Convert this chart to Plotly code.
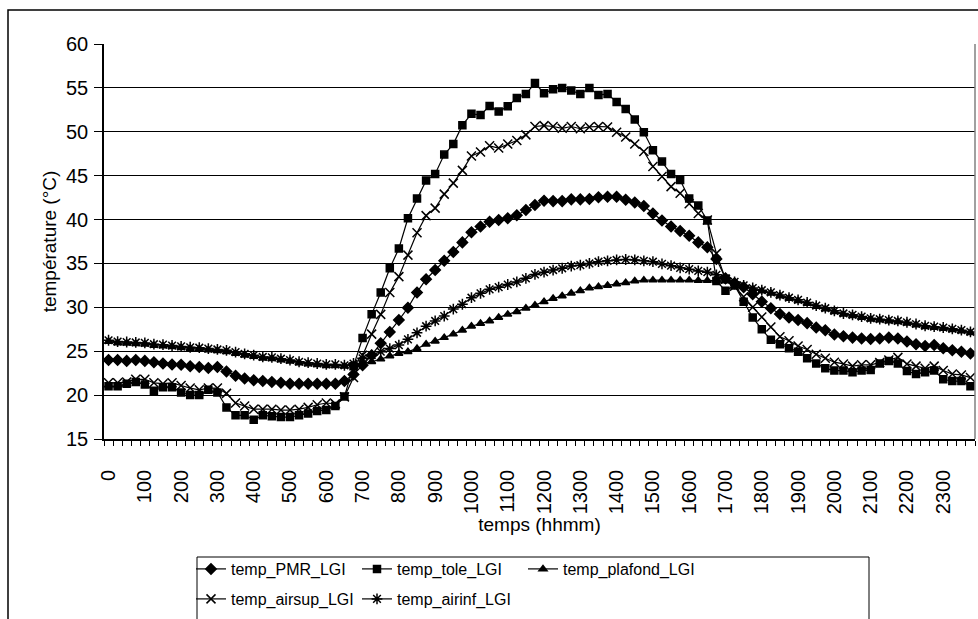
import plotly.graph_objects as go

# Time of day (hhmm), one reading every 15 minutes
TIMES = [
    0, 15, 30, 45, 100, 115, 130, 145, 200, 215, 230, 245,
    300, 315, 330, 345, 400, 415, 430, 445, 500, 515, 530, 545,
    600, 615, 630, 645, 700, 715, 730, 745, 800, 815, 830, 845,
    900, 915, 930, 945, 1000, 1015, 1030, 1045, 1100, 1115, 1130, 1145,
    1200, 1215, 1230, 1245, 1300, 1315, 1330, 1345, 1400, 1415, 1430, 1445,
    1500, 1515, 1530, 1545, 1600, 1615, 1630, 1645, 1700, 1715, 1730, 1745,
    1800, 1815, 1830, 1845, 1900, 1915, 1930, 1945, 2000, 2015, 2030, 2045,
    2100, 2115, 2130, 2145, 2200, 2215, 2230, 2245, 2300, 2315, 2330, 2345,
]

TEMP_PMR = [
    24.0, 24.0, 23.9, 24.0, 23.9, 23.75, 23.6, 23.5, 23.45, 23.3, 23.2, 23.1,
    23.2, 22.7, 22.2, 21.9, 21.7, 21.6, 21.5, 21.4, 21.3, 21.3, 21.3, 21.3,
    21.3, 21.3, 21.6, 22.35, 23.4, 24.55, 25.9, 27.2, 28.55, 29.95, 31.7, 33.2,
    34.25, 35.3, 36.3, 37.4, 38.55, 39.2, 39.75, 39.95, 40.15, 40.5, 41.1, 41.65,
    42.15, 42.1, 42.1, 42.3, 42.3, 42.35, 42.55, 42.6, 42.6, 42.25, 41.95, 41.55,
    40.7, 39.9, 39.2, 38.7, 38.15, 37.4, 36.85, 35.5, 33.3, 32.75, 32.3, 31.5,
    30.65, 29.9, 29.25, 28.85, 28.55, 28.2, 27.7, 27.4, 26.9, 26.7, 26.55, 26.45,
    26.4, 26.45, 26.55, 26.45, 26.1, 25.8, 25.6, 25.7, 25.35, 25.1, 24.95, 24.75,
]

TEMP_TOLE = [
    21.0, 21.0, 21.3, 21.5, 21.2, 20.5, 20.9, 20.9, 20.3, 20.0, 20.0, 20.6,
    20.3, 18.6, 17.7, 17.7, 17.2, 17.7, 17.6, 17.5, 17.5, 17.7, 17.9, 18.2,
    18.3, 18.75, 19.85, 23.3, 26.5, 29.2, 31.7, 34.45, 36.7, 40.15, 42.4, 44.45,
    45.2, 47.4, 48.6, 50.75, 52.05, 51.9, 52.95, 52.3, 52.9, 53.85, 54.3, 55.55,
    54.4, 54.85, 55.0, 54.7, 54.3, 55.0, 54.2, 54.3, 53.4, 52.6, 51.4, 49.95,
    47.9, 46.6, 45.2, 44.5, 42.4, 41.6, 39.9, 33.0, 31.9, 32.5, 30.65, 28.85,
    27.5, 26.3, 25.8, 25.35, 24.95, 24.2, 23.6, 23.05, 22.8, 22.8, 22.6, 22.8,
    22.85, 23.6, 23.9, 23.6, 22.75, 22.4, 22.6, 22.8, 21.8, 21.6, 21.6, 21.0,
]

TEMP_PLAFOND = [
    26.1, 25.95, 25.9, 25.85, 25.8, 25.65, 25.6, 25.5, 25.4, 25.3, 25.25, 25.15,
    25.05, 24.95, 24.75, 24.55, 24.4, 24.2, 24.15, 24.0, 23.85, 23.65, 23.55, 23.45,
    23.35, 23.35, 23.3, 23.45, 23.6, 23.8, 24.1, 24.45, 24.75, 24.95, 25.3, 25.8,
    26.15, 26.55, 26.95, 27.4, 27.85, 28.15, 28.45, 28.85, 29.2, 29.5, 29.9, 30.25,
    30.65, 31.0, 31.3, 31.6, 31.9, 32.2, 32.35, 32.5, 32.65, 32.8, 33.0, 33.1,
    33.1, 33.1, 33.1, 33.1, 33.1, 33.05, 33.05, 33.05, 33.0, 32.75, 32.4, 32.1,
    31.85, 31.6, 31.3, 31.0, 30.75, 30.45, 30.1, 29.8, 29.5, 29.2, 29.05, 28.85,
    28.65, 28.55, 28.45, 28.35, 28.2, 28.0, 27.8, 27.7, 27.6, 27.45, 27.3, 27.1,
]

TEMP_AIRSUP = [
    21.4, 21.4, 21.5, 21.8, 21.8, 21.4, 21.3, 21.4, 21.1, 20.8, 20.6, 20.8,
    20.8, 20.2, 19.1, 18.75, 18.4, 18.4, 18.4, 18.3, 18.3, 18.4, 18.6, 18.9,
    19.1, 19.0, 19.8, 22.0, 24.55, 26.95, 29.2, 31.7, 33.5, 35.95, 38.5, 40.45,
    41.3, 42.9, 44.15, 45.6, 47.25, 47.7, 48.4, 48.15, 48.6, 49.0, 49.65, 50.6,
    50.7, 50.6, 50.4, 50.6, 50.35, 50.55, 50.6, 50.55, 49.95, 49.4, 48.6, 47.75,
    46.05, 44.9, 43.75, 43.0, 41.8, 40.7, 39.95, 36.15, 33.2, 32.4, 31.2, 30.0,
    28.9, 27.75, 26.65, 26.2, 25.6, 25.2, 24.65, 24.2, 23.75, 23.55, 23.3, 23.45,
    23.45, 23.7, 24.0, 24.3, 23.55, 23.3, 23.05, 23.3, 22.8, 22.4, 22.3, 22.0,
]

TEMP_AIRINF = [
    26.25, 26.1, 26.05, 26.0, 25.95, 25.8, 25.75, 25.65, 25.55, 25.45, 25.4, 25.3,
    25.2, 25.1, 24.9, 24.7, 24.55, 24.35, 24.3, 24.15, 24.0, 23.8, 23.7, 23.6,
    23.5, 23.5, 23.4, 23.6, 24.2, 24.55, 24.95, 25.3, 25.7, 26.35, 27.1, 27.85,
    28.45, 29.0, 29.8, 30.35, 31.1, 31.6, 32.05, 32.3, 32.6, 32.9, 33.3, 33.75,
    34.0, 34.25, 34.45, 34.7, 34.8, 35.0, 35.2, 35.3, 35.4, 35.45, 35.4, 35.3,
    35.2, 34.95, 34.75, 34.5, 34.35, 34.15, 34.0, 33.7, 33.3, 32.9, 32.5, 32.2,
    31.95, 31.7, 31.4, 31.1, 30.85, 30.55, 30.2, 29.9, 29.6, 29.3, 29.15, 28.95,
    28.75, 28.65, 28.55, 28.45, 28.3, 28.1, 27.9, 27.8, 27.7, 27.55, 27.4, 27.2,
]

# name, values, marker symbol, marker size, legend block
SERIES = [
    ("temp_PMR_LGI", TEMP_PMR, "diamond", 8, "legend"),
    ("temp_tole_LGI", TEMP_TOLE, "square", 7, "legend"),
    ("temp_plafond_LGI", TEMP_PLAFOND, "triangle-up", 7, "legend3"),
    ("temp_airsup_LGI", TEMP_AIRSUP, "x-thin-open", 9, "legend2"),
    ("temp_airinf_LGI", TEMP_AIRINF, "asterisk-open", 9, "legend2"),
]

FONT = "Liberation Sans, Arial, sans-serif"
W, H = 978, 619
L, R, T, B = 104, 3, 44, 180
PW, PH = W - L - R, H - T - B

def px_x(x):
    return (x - L) / PW

def px_y(y):
    return (H - B - y) / PH

pos = list(range(len(TIMES)))
hour_pos = [i for i, t in enumerate(TIMES) if t % 100 == 0]
hour_txt = [str(TIMES[i]) for i in hour_pos]

fig = go.Figure()
for name, vals, sym, size, leg in SERIES:
    fig.add_trace(go.Scatter(
        x=pos, y=vals, name=name, mode="lines+markers",
        line=dict(color="black", width=1.2),
        marker=dict(symbol=sym, size=size, color="black",
                    line=dict(color="black", width=1.5)),
        legend=leg,
    ))

legend_common = dict(
    orientation="h", xanchor="left", yanchor="top",
    xref="container", yref="container",
    bgcolor="rgba(0,0,0,0)", borderwidth=0,
    font=dict(family=FONT, size=16, color="black"),
    itemwidth=30, tracegroupgap=0,
)
ROW1, ROW2 = 552, 582

fig.update_layout(
    width=W, height=H,
    margin=dict(l=L, r=R, t=T, b=B, autoexpand=False),
    paper_bgcolor="white", plot_bgcolor="white",
    font=dict(family=FONT, color="black"),
    showlegend=True,
    legend=dict(x=191 / W, y=1 - ROW1 / H, entrywidth=121,
                entrywidthmode="pixels", **legend_common),
    legend3=dict(x=523 / W, y=1 - ROW1 / H, **legend_common),
    legend2=dict(x=191 / W, y=1 - ROW2 / H, entrywidth=121,
                 entrywidthmode="pixels", **legend_common),
    xaxis=dict(
        range=[-0.5, len(TIMES) - 0.5],
        tickmode="array", tickvals=hour_pos, ticktext=hour_txt,
        tickangle=-90, ticks="", ticklabelstandoff=21,
        tickfont=dict(family=FONT, size=20, color="black"),
        minor=dict(tick0=-0.5, dtick=1, ticks="outside", ticklen=5,
                   tickcolor="black", tickwidth=1, showgrid=False),
        showgrid=False, zeroline=False,
        showline=True, linecolor="black", linewidth=1.5,
        title=dict(text="temps (hhmm)", standoff=4,
                   font=dict(family=FONT, size=19, color="black")),
        automargin=False,
    ),
    yaxis=dict(
        range=[15, 60], tickmode="linear", tick0=15, dtick=5,
        ticks="outside", ticklen=8, tickcolor="black", tickwidth=1,
        ticklabelstandoff=2,
        tickfont=dict(family=FONT, size=20, color="black"),
        showgrid=True, gridcolor="black", gridwidth=1,
        zeroline=False,
        showline=True, linecolor="black", linewidth=1.5,
        title=dict(text="température (°C)", standoff=4,
                   font=dict(family=FONT, size=19, color="black")),
        automargin=False,
    ),
    shapes=[
        # right edge of the plotting area
        dict(type="line", xref="paper", yref="paper", x0=1, x1=1, y0=0, y1=1,
             line=dict(color="#808080", width=1.5)),
        # outer chart frame
        dict(type="rect", xref="paper", yref="paper",
             x0=px_x(8), x1=px_x(995), y0=px_y(10), y1=px_y(640),
             line=dict(color="black", width=1.5), fillcolor="rgba(0,0,0,0)"),
        # legend frame
        dict(type="rect", xref="paper", yref="paper",
             x0=px_x(197), x1=px_x(869), y0=px_y(557), y1=px_y(640),
             line=dict(color="black", width=1), fillcolor="rgba(0,0,0,0)"),
    ],
)

fig.write_html("out.html")
